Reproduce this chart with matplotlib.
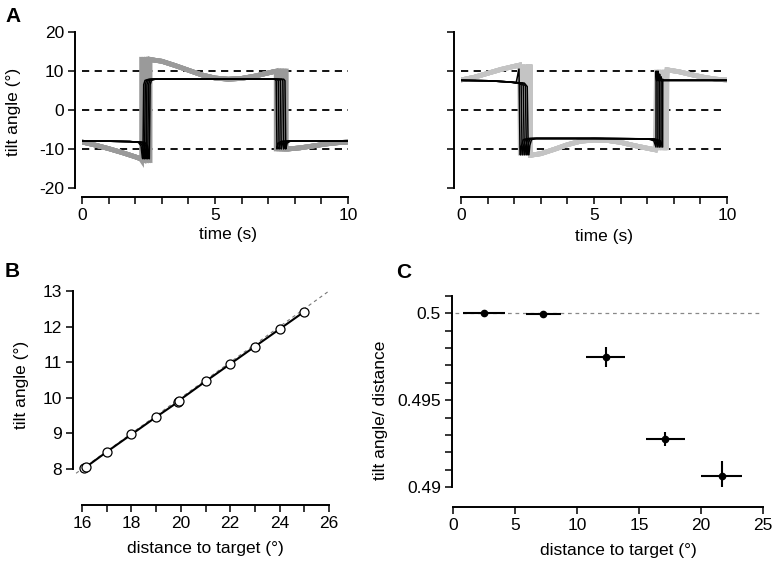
import matplotlib
matplotlib.use("Agg")
import matplotlib.pyplot as plt
import numpy as np

plt.rcParams['font.family'] = ['Liberation Sans', 'DejaVu Sans']
plt.rcParams['font.size'] = 12.5
plt.rcParams['axes.unicode_minus'] = False

W, H = 777, 563

# ---------------- Panel A data ----------------
# left panel: gray (thick) target-like traces
gL_pre_t = [0.0, 0.5, 1.0, 1.5, 2.0, 2.2]
gL_pre_y = [-8.2, -9.0, -9.9, -10.9, -12.0, -12.5]
gL_mid_t = [2.6, 3.0, 3.5, 4.0, 4.5, 5.0, 5.5, 6.0, 6.5, 7.0, 7.25]
gL_mid_y = [12.9, 12.5, 11.4, 10.2, 9.0, 8.2, 7.9, 8.1, 8.7, 9.5, 9.9]
gL_post_t = [7.75, 8.2, 8.7, 9.2, 9.6, 10.0]
gL_post_y = [-10.0, -9.7, -9.2, -8.7, -8.4, -8.2]
gL_jump1 = [2.24, 2.33, 2.42, 2.5, 2.56]
gL_jump2 = [7.3, 7.4, 7.5, 7.6, 7.68]
gL_lo, gL_hi = -12.9, 13.0
gL_top2, gL_bot2 = 10.0, -10.0

# left panel: black traces
bL_level_hi, bL_level_lo = 7.9, -8.0
bL_jump1 = [2.27, 2.33, 2.39, 2.45, 2.51]
bL_jump2 = [7.3, 7.38, 7.46, 7.55, 7.63]

# right panel: gray traces
gR_pre_t = [0.0, 0.5, 1.0, 1.5, 2.0, 2.2]
gR_pre_y = [7.7, 8.4, 9.4, 10.4, 11.2, 11.5]
gR_mid_t = [2.62, 3.0, 3.5, 4.0, 4.5, 5.0, 5.5, 6.0, 6.5, 7.0, 7.3]
gR_mid_y = [-11.6, -11.2, -10.1, -8.9, -8.0, -7.7, -7.8, -8.3, -9.1, -9.8, -10.2]
gR_post_t = [7.75, 8.2, 8.7, 9.2, 9.6, 10.0]
gR_post_y = [10.3, 9.8, 9.0, 8.3, 7.9, 7.7]
gR_jump1 = [2.23, 2.32, 2.42, 2.52, 2.6]
gR_jump2 = [7.35, 7.45, 7.55, 7.65, 7.72]
gR_lo, gR_hi = -11.6, 11.7
gR_top2, gR_bot2 = 10.3, -10.3

# right panel: black traces
bR_level_hi, bR_level_lo = 7.6, -7.3
bR_jump1 = [2.22, 2.3, 2.38, 2.46, 2.53]
bR_jump2 = [7.33, 7.4, 7.46, 7.52, 7.58]
bR_peak1 = [10.5, 6.5, 6.3, 6.2, 6.0]
bR_peak2 = [10.0, 10.0, 9.2, 8.5, 7.9]

# ---------------- Panel B data ----------------
dist_B = [16.1, 16.15, 17.0, 18.0, 19.0, 19.88, 19.92, 21.0, 22.0, 23.0, 24.0, 25.0]
tilt_B = [8.03, 8.05, 8.48, 8.97, 9.46, 9.88, 9.92, 10.46, 10.95, 11.44, 11.93, 12.42]
ideal_B_x = [15.76, 26.0]
ideal_B_y = [7.88, 13.0]

# ---------------- Panel C data ----------------
dist_C = [2.5, 7.27, 12.31, 17.13, 21.66]
dist_C_err = [1.68, 1.4, 1.57, 1.56, 1.65]
ratio_C = [0.5, 0.49998, 0.49751, 0.49276, 0.49061]
ratio_C_err = [0.0, 0.0, 0.00058, 0.0004, 0.00088]

fig = plt.figure(figsize=(W / 100, H / 100), dpi=100)


def axes_px(x0, x1, ytop, ybot):
    return fig.add_axes([x0 / W, 1 - ybot / H, (x1 - x0) / W, (ybot - ytop) / H])


def style(ax, left_out_px, bottom_out_px):
    for s in ['top', 'right']:
        ax.spines[s].set_visible(False)
    ax.spines['left'].set_position(('outward', left_out_px * 0.72))
    ax.spines['bottom'].set_position(('outward', bottom_out_px * 0.72))
    for s in ['left', 'bottom']:
        ax.spines[s].set_linewidth(1.4)
    ax.tick_params(direction='out', length=5, width=1.1, labelsize=12.5, pad=3)
    ax.patch.set_alpha(0)


def gray_traces(ax, pre_t, pre_y, mid_t, mid_y, post_t, post_y, j1s, j2s, lo, hi, top2, bot2, color):
    for j1, j2 in zip(j1s, j2s):
        t = list(pre_t) + [j1, j1] + list(mid_t) + [j2, j2] + list(post_t)
        y = list(pre_y) + [lo, hi] + list(mid_y) + [top2, bot2] + list(post_y)
        ax.plot(t, y, color=color, lw=3.4, solid_joinstyle='miter', zorder=2)


# ---------------- Panel A left ----------------
axL = axes_px(82, 348, 32, 188)
axL.set_xlim(0, 10)
axL.set_ylim(-20, 20)
for yv in [10, 0, -10]:
    axL.plot([0, 10], [yv, yv], color='black', lw=1.3, ls=(0, (4, 3)), zorder=1)
gray_traces(axL, gL_pre_t, gL_pre_y, gL_mid_t, gL_mid_y, gL_post_t, gL_post_y,
            gL_jump1, gL_jump2, gL_lo, gL_hi, gL_top2, gL_bot2, '#9a9a9a')
for j1, j2 in zip(bL_jump1, bL_jump2):
    t = [0, 1.0, 1.8, j1 - 0.15, j1 - 0.05, j1, j1 + 0.02, j1 + 0.05, j1 + 0.1, j1 + 0.25,
         j2 - 0.05, j2, j2 + 0.03, j2 + 0.08, j2 + 0.2, 10]
    y = [bL_level_lo, bL_level_lo, -8.1, -8.3, -9.2, -12.3, -12.5, 6.5, 7.6, bL_level_hi,
         bL_level_hi, 7.5, -10.0, -8.5, bL_level_lo, bL_level_lo]
    axL.plot(t, y, color='black', lw=1.1, zorder=3)
style(axL, 7, 9)
axL.spines['left'].set_bounds(-20, 20)
axL.spines['bottom'].set_bounds(0, 10)
axL.set_yticks([-20, -10, 0, 10, 20])
axL.set_xticks(np.arange(0, 11, 1))
axL.set_xticklabels(['0', '', '', '', '', '5', '', '', '', '', '10'])

# ---------------- Panel A right ----------------
axR = axes_px(461, 727, 32, 188)
axR.set_xlim(0, 10)
axR.set_ylim(-20, 20)
for yv in [10, 0, -10]:
    axR.plot([0, 9.9], [yv, yv], color='black', lw=1.3, ls=(0, (4, 3)), zorder=1)
gray_traces(axR, gR_pre_t, gR_pre_y, gR_mid_t, gR_mid_y, gR_post_t, gR_post_y,
            gR_jump1, gR_jump2, gR_lo, gR_hi, gR_top2, gR_bot2, '#c4c4c4')
for j1, j2, p1, p2 in zip(bR_jump1, bR_jump2, bR_peak1, bR_peak2):
    t = [0, 1.0, 1.8, j1 - 0.15, j1 - 0.04, j1, j1 + 0.02, j1 + 0.06, j1 + 0.12, j1 + 0.3,
         5.0, j2 - 0.3, j2 - 0.08, j2, j2 + 0.005, j2 + 0.025, 10]
    y = [bR_level_hi, 7.5, 7.2, 6.9, p1, -11.4, -11.5, -9.0, -7.6, bR_level_lo,
         bR_level_lo, -7.4, -7.9, -9.5, p2, bR_level_hi, bR_level_hi]
    axR.plot(t, y, color='black', lw=1.1, zorder=3)
style(axR, 7, 9)
axR.spines['left'].set_bounds(-20, 20)
axR.spines['bottom'].set_bounds(0, 10)
axR.set_yticks([-20, -10, 0, 10, 20])
axR.set_yticklabels([])
axR.set_xticks(np.arange(0, 11, 1))
axR.set_xticklabels(['0', '', '', '', '', '5', '', '', '', '', '10'])

# ---------------- Panel B ----------------
axB = axes_px(82, 329, 291, 469)
axB.set_xlim(16, 26)
axB.set_ylim(8, 13)
axB.plot(ideal_B_x, ideal_B_y, color='#777777', lw=0.8, ls=(0, (3, 3)), clip_on=False, zorder=1)
axB.plot(dist_B, tilt_B, color='black', lw=1.5, zorder=2, clip_on=False)
axB.plot(dist_B, tilt_B, ls='none', marker='o', ms=6.5, mfc='white', mec='black',
         mew=0.9, zorder=3, clip_on=False)
style(axB, 9, 36)
axB.spines['left'].set_bounds(8, 13)
axB.spines['bottom'].set_bounds(16, 26)
axB.set_yticks([8, 9, 10, 11, 12, 13])
axB.set_xticks(np.arange(16, 27, 1))
axB.set_xticklabels([str(v) if v % 2 == 0 else '' for v in range(16, 27)])

# ---------------- Panel C ----------------
axC = axes_px(453, 763, 296, 487)
axC.set_xlim(0, 25)
axC.set_ylim(0.49, 0.501)
axC.plot([0.2, 25], [0.5, 0.5], color='#888888', lw=0.9, ls=(0, (3, 3)), zorder=1)
axC.errorbar(dist_C, ratio_C, xerr=dist_C_err, yerr=ratio_C_err, fmt='o', color='black',
             ms=4.5, elinewidth=1.5, capsize=0, zorder=3)
style(axC, 1, 20)
axC.spines['left'].set_bounds(0.49, 0.501)
axC.spines['bottom'].set_bounds(0, 25)
axC.set_yticks(np.arange(0.49, 0.5011, 0.001))
axC.set_yticklabels(['0.49', '', '', '', '', '0.495', '', '', '', '', '0.5', ''])
axC.set_xticks([0, 5, 10, 15, 20, 25])

# ---------------- Labels ----------------
fs_lab = 12.5
fig.text(14 / W, 1 - 112 / H, 'tilt angle (°)', rotation=90, ha='center', va='center', fontsize=fs_lab)
fig.text(228 / W, 1 - 235 / H, 'time (s)', ha='center', va='center', fontsize=fs_lab)
fig.text(604 / W, 1 - 236 / H, 'time (s)', ha='center', va='center', fontsize=fs_lab)
fig.text(22 / W, 1 - 385 / H, 'tilt angle (°)', rotation=90, ha='center', va='center', fontsize=fs_lab)
fig.text(205 / W, 1 - 548 / H, 'distance to target (°)', ha='center', va='center', fontsize=fs_lab)
fig.text(380 / W, 1 - 410 / H, 'tilt angle/ distance', rotation=90, ha='center', va='center', fontsize=fs_lab)
fig.text(618 / W, 1 - 550 / H, 'distance to target (°)', ha='center', va='center', fontsize=fs_lab)

fig.text(5 / W, 1 - 22 / H, 'A', fontsize=15, fontweight='bold', ha='left', va='baseline')
fig.text(5 / W, 1 - 277 / H, 'B', fontsize=15, fontweight='bold', ha='left', va='baseline')
fig.text(396 / W, 1 - 278 / H, 'C', fontsize=15, fontweight='bold', ha='left', va='baseline')

fig.savefig('out.png', dpi=100)
